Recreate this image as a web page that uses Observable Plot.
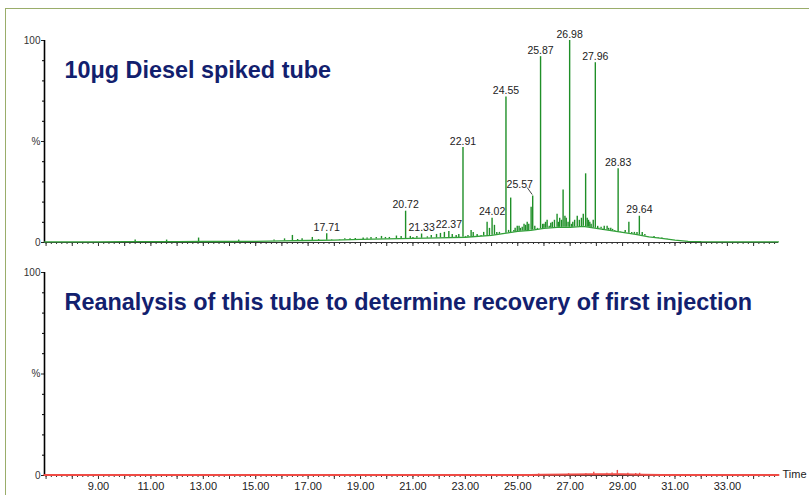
<!DOCTYPE html>
<html><head><meta charset="utf-8">
<script src="https://cdn.jsdelivr.net/npm/d3@7"></script>
<script src="https://cdn.jsdelivr.net/npm/@observablehq/plot@0.6"></script>
<style>
html,body{margin:0;padding:0;background:#fff;}
#wrap{position:relative;width:809px;height:495px;overflow:hidden;font-family:"Liberation Sans",Arial,sans-serif;}
#frame{position:absolute;left:5px;top:8px;right:-10px;bottom:-10px;border-top:1.5px solid #9aad6a;border-left:1.5px solid #9aad6a;}
#top,#bot{position:absolute;left:0;}
#top{top:0}
#bot{top:262px}
</style></head><body>
<div id="wrap"><div id="frame"></div><div id="top"></div><div id="bot"></div></div>
<script>
// ---- data ----
const xDomain = [6.94, 34.95];
const yDomain = [0, 100];
const xLabelTicks = [9, 11, 13, 15, 17, 19, 21, 23, 25, 27, 29, 31, 33];
const xMajorTicks = d3.range(7, 35);
const xMinorTicks = d3.range(35, 175).map(i => i / 5);
const yTickValues = [0, 50, 100];
const yTickLabels = ["0", "%", "100"];
const yMinorTicks = [10, 20, 30, 40, 60, 70, 80, 90];

const titleTop = "10μg Diesel spiked tube";
const titleBottom = "Reanalysis of this tube to determine recovery of first injection";

// top trace: unresolved baseline hump (time, %)
const humpTimes = [6.94, 8, 9, 10, 11, 12, 13, 14, 15, 16, 17, 18, 19, 20, 21, 22, 23, 24, 24.5, 25, 25.5, 26, 26.5, 27, 27.5, 28, 28.5, 29, 29.5, 30, 30.5, 31, 31.5, 32, 33, 34, 34.95];
const humpValues = [0.3, 0.3, 0.3, 0.4, 0.4, 0.4, 0.5, 0.5, 0.6, 0.8, 1.0, 1.2, 1.5, 1.8, 2.0, 2.3, 2.6, 3.5, 4.5, 5.5, 6.0, 7.0, 7.5, 7.5, 8.0, 7.0, 6.0, 5.0, 4.0, 2.8, 2.0, 1.2, 0.6, 0.4, 0.3, 0.3, 0.3];
// top trace: peaks (retention time, %)
const peakTimes = [10.40, 11.60, 12.82, 14.35, 15.70, 16.10, 16.40, 16.60, 16.77, 17.16, 17.40, 17.71, 17.90, 18.20, 18.40, 18.60, 18.80, 19.10, 19.25, 19.40, 19.60, 19.80, 19.95, 20.10, 20.37, 20.55, 20.72, 20.90, 21.00, 21.15, 21.33, 21.55, 21.70, 21.90, 22.05, 22.20, 22.37, 22.50, 22.65, 22.75, 22.91, 23.00, 23.10, 23.22, 23.30, 23.45, 23.60, 23.70, 23.83, 23.92, 24.02, 24.11, 24.20, 24.30, 24.40, 24.55, 24.65, 24.73, 24.85, 24.90, 24.98, 25.05, 25.10, 25.17, 25.24, 25.30, 25.36, 25.42, 25.51, 25.57, 25.65, 25.75, 25.87, 25.95, 26.00, 26.06, 26.12, 26.20, 26.26, 26.32, 26.40, 26.50, 26.55, 26.60, 26.67, 26.73, 26.80, 26.85, 26.92, 26.98, 27.05, 27.10, 27.17, 27.27, 27.35, 27.43, 27.50, 27.59, 27.65, 27.70, 27.75, 27.80, 27.88, 27.96, 28.05, 28.10, 28.18, 28.25, 28.30, 28.41, 28.47, 28.55, 28.62, 28.70, 28.83, 28.92, 29.00, 29.10, 29.24, 29.35, 29.45, 29.55, 29.64, 29.75, 29.85, 30.00, 30.20, 30.36, 30.50, 30.70];
const peakHeights = [1.2, 1.2, 2.2, 1.2, 1.2, 1.8, 3.5, 1.5, 1.8, 2.5, 1.5, 4.3, 1.5, 1.5, 1.8, 1.8, 2.0, 2.2, 2.2, 2.5, 2.5, 3.0, 2.5, 2.5, 3.2, 3.0, 15.5, 3.0, 2.5, 3.0, 4.2, 2.8, 3.5, 4.0, 4.5, 5.0, 5.5, 4.0, 3.5, 4.0, 47, 3.0, 3.5, 6.0, 5.0, 4.0, 3.5, 5.0, 10, 7.0, 12, 8.5, 5.0, 5.0, 4.5, 72, 6.0, 22, 6.0, 7.0, 8.0, 8.0, 7.0, 7.5, 9.0, 8.5, 10, 9.0, 17.5, 23, 8.0, 7.0, 92, 9.0, 9.0, 10, 11, 8.0, 9.5, 10, 11, 14, 10, 12, 11, 26, 13, 12, 10, 100, 9.0, 10, 11, 13, 11, 12, 14, 34, 12, 11, 10, 9.0, 11, 89, 8.0, 7.0, 7.5, 6.0, 8.0, 8.0, 7.0, 7.0, 6.5, 6.0, 36.5, 5.0, 5.0, 6.0, 10, 5.0, 5.0, 5.0, 13, 5.0, 4.0, 3.0, 3.0, 2.0, 2.2, 1.8];
const labelTimes = [17.71, 20.72, 21.33, 22.37, 22.91, 24.02, 24.55, 25.57, 25.87, 26.98, 27.96, 28.83, 29.64];

// bottom trace (reanalysis)
const redHumpTimes = [6.94, 25.5, 26, 27, 28, 29, 29.8, 30.5, 34.95];
const redHumpValues = [0.2, 0.2, 0.4, 0.5, 0.6, 0.6, 0.4, 0.2, 0.2];
const redPeakTimes = [25.80, 26.94, 27.60, 27.90, 28.40, 28.60, 28.80, 29.20, 29.50, 29.65];
const redPeakHeights = [0.8, 0.9, 1.0, 1.6, 1.1, 1.2, 2.5, 1.1, 1.0, 1.1];

// ---- build ----
const FONT = "Liberation Sans, Arial, sans-serif";

function panel(opts) {
  const hump = opts.humpT.map((t, i) => ({t, v: opts.humpV[i]}));
  const baseAt = d3.scaleLinear().domain(opts.humpT).range(opts.humpV);
  const peaks = opts.peakT.map((t, i) => ({t, h: opts.peakH[i], b: baseAt(opts.peakT[i])}));
  const labeled = peaks.filter(p => (opts.labels || []).includes(p.t));
  const marks = [
    Plot.ruleY([0], {stroke: "#333", strokeWidth: 1}),
    Plot.axisX(xMinorTicks, {tickSize: 2, tickFormat: () => "", stroke: "#333", label: null}),
    Plot.axisX(xMajorTicks, {tickSize: 4, tickFormat: () => "", stroke: "#333", label: null}),
    Plot.axisY(yMinorTicks, {tickSize: 2, tickFormat: () => "", stroke: "#000", label: null}),
    Plot.axisY(yTickValues, {tickSize: 3, tickPadding: 1, fontSize: 10, fill: "#333",
      tickFormat: d => yTickLabels[yTickValues.indexOf(d)], label: null}),
    Plot.ruleX([xDomain[0]], {stroke: "#000", strokeWidth: 1.6}),
    Plot.line(hump, {x: "t", y: "v", stroke: opts.color, strokeWidth: opts.lineWidth}),
    Plot.ruleX(peaks, {x: "t", y1: "b", y2: "h", stroke: opts.peakColor, strokeWidth: 1.4}),
    Plot.text([opts.title], {frameAnchor: "top-left", dx: 20, dy: opts.titleDy, lineAnchor: "top",
      textAnchor: "start", fontSize: 23.4, fontWeight: "bold", fill: "#12206e"})
  ];
  if (labeled.length) {
    const normal = labeled.filter(p => p.t !== 25.57);
    const shifted = labeled.filter(p => p.t === 25.57);
    marks.push(Plot.text(normal, {x: "t", y: "h", text: d => d.t.toFixed(2), lineAnchor: "bottom", dy: -3, fontSize: 10.5, fill: "#222"}));
    marks.push(Plot.text(shifted, {x: "t", y: "h", text: d => d.t.toFixed(2), lineAnchor: "bottom", dx: -13, dy: -8, fontSize: 10.5, fill: "#222"}));
    marks.push((index, scales) => {
      const g = document.createElementNS("http://www.w3.org/2000/svg", "g");
      shifted.forEach(p => {
        const x = scales.x(p.t), y = scales.y(p.h);
        const l = document.createElementNS("http://www.w3.org/2000/svg", "line");
        l.setAttribute("x1", x); l.setAttribute("y1", y - 1);
        l.setAttribute("x2", x - 5); l.setAttribute("y2", y - 8);
        l.setAttribute("stroke", "#444"); l.setAttribute("stroke-width", "1");
        g.appendChild(l);
      });
      return g;
    });
  }
  if (opts.showLabels) {
    marks.push(Plot.axisX(xLabelTicks, {tickSize: 0, tickPadding: 7, fontSize: 11, fill: "#222",
      tickFormat: d => d.toFixed(2), label: null}));
    marks.push(Plot.text(["Time"], {frameAnchor: "bottom-right", textAnchor: "start", dx: 4, dy: 2, fontSize: 11, fill: "#222"}));
  }
  return Plot.plot({
    width: 809, height: opts.height,
    marginLeft: 44, marginRight: 31, marginTop: opts.marginTop, marginBottom: 20,
    x: {domain: xDomain, label: null},
    y: {domain: yDomain, label: null},
    style: {fontFamily: FONT, fontSize: "11px", color: "#222", background: "transparent", overflow: "visible"},
    marks
  });
}

document.getElementById("top").appendChild(panel({
  height: 262, marginTop: 40, humpT: humpTimes, humpV: humpValues,
  peakT: peakTimes, peakH: peakHeights, labels: labelTimes,
  color: "#33a13a", peakColor: "#1f8f28", lineWidth: 1.3,
  title: titleTop, titleDy: 21, showLabels: false
}));
document.getElementById("bot").appendChild(panel({
  height: 233, marginTop: 10, humpT: redHumpTimes, humpV: redHumpValues,
  peakT: redPeakTimes, peakH: redPeakHeights, labels: [],
  color: "#ef4b45", peakColor: "#ef4b45", lineWidth: 2,
  title: titleBottom, titleDy: 21, showLabels: true
}));
</script>
</body></html>
